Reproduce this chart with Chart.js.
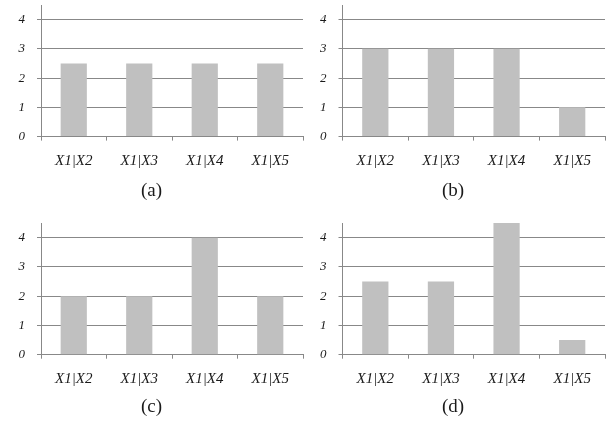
<!DOCTYPE html>
<html>
<head>
<meta charset="utf-8">
<script src="https://cdn.jsdelivr.net/npm/chart.js@4/dist/chart.umd.min.js"></script>
<style>
  html, body { margin: 0; padding: 0; background: #fff; }
  body { width: 611px; height: 422px; position: relative; overflow: hidden; }
  .panel { position: absolute; }
</style>
</head>
<body>
<div class="panel" id="pa" style="left:0px;top:0px;width:305px;height:210px"><canvas id="ca"></canvas></div>
<div class="panel" id="pb" style="left:301px;top:0px;width:310px;height:210px"><canvas id="cb"></canvas></div>
<div class="panel" id="pc" style="left:0px;top:218px;width:305px;height:204px"><canvas id="cc"></canvas></div>
<div class="panel" id="pd" style="left:301px;top:218px;width:310px;height:204px"><canvas id="cd"></canvas></div>
<script>
// Pair labels shared by every panel
const categories = ['X1|X2', 'X1|X3', 'X1|X4', 'X1|X5'];

// Bar heights for each panel
const valuesA = [2.5, 2.5, 2.5, 2.5];
const valuesB = [3, 3, 3, 1];
const valuesC = [2, 2, 4, 2];
const valuesD = [2.5, 2.5, 4.5, 0.5];

// Value axis labels and panel captions
const yTicks = [0, 1, 2, 3, 4];
const captions = ['(a)', '(b)', '(c)', '(d)'];

const GRID = '#888888';
const BAR = '#c0c0c0';
const TEXT = '#1a1a1a';
const SERIF = '"Liberation Serif", "Times New Roman", serif';

function makePanel(canvasId, values, caption, opts) {
  return new Chart(document.getElementById(canvasId), {
    type: 'bar',
    data: {
      labels: categories,
      datasets: [{
        data: values,
        backgroundColor: BAR,
        borderWidth: 0,
        barPercentage: 0.4,
        categoryPercentage: 1.0
      }]
    },
    options: {
      responsive: true,
      maintainAspectRatio: false,
      animation: false,
      devicePixelRatio: 1,
      layout: { padding: { top: 5, right: opts.padRight, left: 0, bottom: opts.padBottom } },
      plugins: {
        legend: { display: false },
        tooltip: { enabled: false },
        title: {
          display: true,
          text: caption,
          position: 'bottom',
          color: TEXT,
          font: { family: SERIF, size: 19, weight: 'normal', lineHeight: 1.2 },
          padding: { top: 0, bottom: 0 }
        }
      },
      scales: {
        x: {
          grid: { drawOnChartArea: false, drawTicks: true, tickLength: 4, color: GRID, offset: true, lineWidth: 1 },
          border: { color: GRID, width: 1 },
          ticks: {
            color: TEXT,
            font: { family: SERIF, style: 'italic', size: 15 },
            padding: 11,
            maxRotation: 0,
            autoSkip: false
          },
          afterFit: s => {
            s.height = opts.xHeight;
            s.paddingLeft = 0;
            s.paddingRight = 0;
          }
        },
        y: {
          min: 0,
          max: 4.5,
          grid: { color: GRID, tickLength: 4, lineWidth: 1 },
          border: { color: GRID, width: 1 },
          ticks: {
            stepSize: 1,
            includeBounds: false,
            color: TEXT,
            padding: 12,
            font: { family: SERIF, style: 'italic', size: 13 }
          },
          afterBuildTicks: s => { s.ticks = yTicks.map(v => ({ value: v })); },
          afterFit: s => {
            s.width = opts.yWidth;
            s.paddingTop = 0;
            s.paddingBottom = 0;
          }
        }
      }
    }
  });
}

makePanel('ca', valuesA, captions[0], { padRight: 2, padBottom: 8, xHeight: 42.6, yWidth: 41 });
makePanel('cb', valuesB, captions[1], { padRight: 6, padBottom: 8, xHeight: 42.6, yWidth: 41.5 });
makePanel('cc', valuesC, captions[2], { padRight: 2, padBottom: 4, xHeight: 40.5, yWidth: 41 });
makePanel('cd', valuesD, captions[3], { padRight: 6, padBottom: 4, xHeight: 40.5, yWidth: 41.5 });
</script>
</body>
</html>
